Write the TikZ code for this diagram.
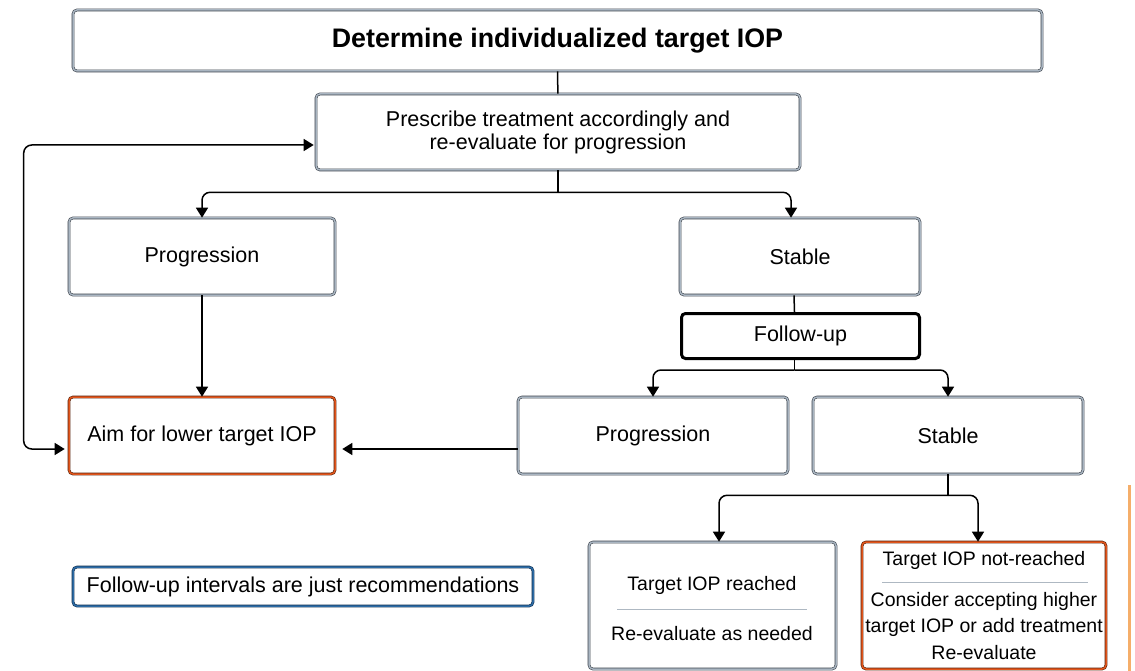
\documentclass[tikz,border=0pt]{standalone}
\usepackage{fontspec}
\setmainfont{Liberation Sans}
\usetikzlibrary{arrows.meta}
\definecolor{edgedark}{HTML}{3E454E}
\definecolor{edgegray}{HTML}{A9B5C1}
\definecolor{warndark}{HTML}{5A220C}
\definecolor{warnorange}{HTML}{E2561C}
\definecolor{notedark}{HTML}{102F50}
\definecolor{noteblue}{HTML}{2D6CA6}
\definecolor{sepgray}{HTML}{AEB8C2}
\definecolor{paleorange}{HTML}{F5AE6A}

\begin{document}
\begin{tikzpicture}[x=1pt, y=-1pt,
    box/.style={draw=edgedark, double=edgegray, double distance=1.5pt, line width=0.6pt,
        rounded corners=4pt, fill=white, align=center, inner sep=0pt,
        font=\fontsize{21.5}{23}\selectfont},
    warnbox/.style={box, draw=warndark, double=warnorange},
    notebox/.style={box, draw=notedark, double=noteblue},
    fupbox/.style={box, draw=black, double=none, line width=3pt},
    small/.style={inner sep=0pt, font=\fontsize{19.5}{22}\selectfont},
    wire/.style={line width=1.5pt, rounded corners=8pt},
    conn/.style={wire, -{Triangle[width=12pt,length=10pt]}},
    loop/.style={wire, {Triangle[width=12pt,length=10pt]}-{Triangle[width=12pt,length=10pt]}}]
    \useasboundingbox (0,0) rectangle (1135,671);
    \node[box, minimum width=969pt, minimum height=61pt, font=\fontsize{26.8}{30}\selectfont\bfseries] (target) at (557.5,40.5) {Determine individualized target IOP};
    \node[box, minimum width=484pt, minimum height=76pt] (prescribe) at (558,132) {Prescribe treatment accordingly and\\re-evaluate for progression};
    \node[box, minimum width=266pt, minimum height=77pt] (progA) at (202,256.5) {Progression};
    \node[box, minimum width=240pt, minimum height=77pt] (stableA) at (800,256.5) {Stable};
    \node[fupbox, minimum width=238pt, minimum height=45pt] (followup) at (800.5,336) {Follow-up};
    \node[box, minimum width=270pt, minimum height=77pt] (progB) at (653,435.5) {Progression};
    \node[box, minimum width=270pt, minimum height=77pt] (stableB) at (948,435.5) {Stable};
    \node[warnbox, minimum width=266pt, minimum height=77pt] (aim) at (202,435.5) {Aim for lower target IOP};
    \node[notebox, minimum width=460pt, minimum height=39pt] (note) at (303,586.5) {Follow-up intervals are just recommendations};
    \node[box, minimum width=247pt, minimum height=127pt] (reached) at (712.5,605.5) {};
    \node[warnbox, minimum width=244pt, minimum height=127pt] (notreached) at (984,605.5) {};
    \node[small] (reachedA) at (712,585) {Target IOP reached};
    \node[small] (reachedB) at (712,634) {Re-evaluate as needed};
    \node[small] (notreachedA) at (984,560) {Target IOP not-reached};
    \node[small, align=center, font=\fontsize{19.5}{26.5}\selectfont] (notreachedB) at (984,626) {Consider accepting higher\\target IOP or add treatment\\Re-evaluate};
    \draw[sepgray, line width=1pt] (617,609) -- (807,609);
    \draw[sepgray, line width=1pt] (882,582) -- (1088,582);
    \draw[paleorange, line width=3pt] (1129,485) -- (1129,671);
    \draw[wire] (target) -- (prescribe);
    \draw[wire] (prescribe.south) -- ++(0,22) coordinate (splitA);
    \draw[conn] (splitA) -| (progA.north);
    \draw[conn] (splitA) -| ([xshift=-9pt]stableA.north);
    \draw[wire] ([xshift=-6pt]stableA.south) -- ([xshift=-6pt]followup.north);
    \draw[wire] ([xshift=-6pt]followup.south) -- ++(0,10) coordinate (splitB);
    \draw[conn] (splitB) -| (progB.north);
    \draw[conn] (splitB) -| (stableB.north);
    \draw[wire] (stableB.south) -- ++(0,21) coordinate (splitC);
    \draw[conn] (splitC) -| ([xshift=6.5pt]reached.north);
    \draw[conn] (splitC) -| ([xshift=-6pt]notreached.north);
    \draw[conn] (progA) -- (aim);
    \draw[conn, shorten >=7pt] ([yshift=-13.5pt]progB.west) -- ([yshift=-13.5pt]aim.east);
    \draw[loop, shorten <=4pt, shorten >=2pt] ([yshift=-13.5pt]aim.west) -- ++(-45,0) |- ([yshift=-13pt]prescribe.west);
\end{tikzpicture}
\end{document}
